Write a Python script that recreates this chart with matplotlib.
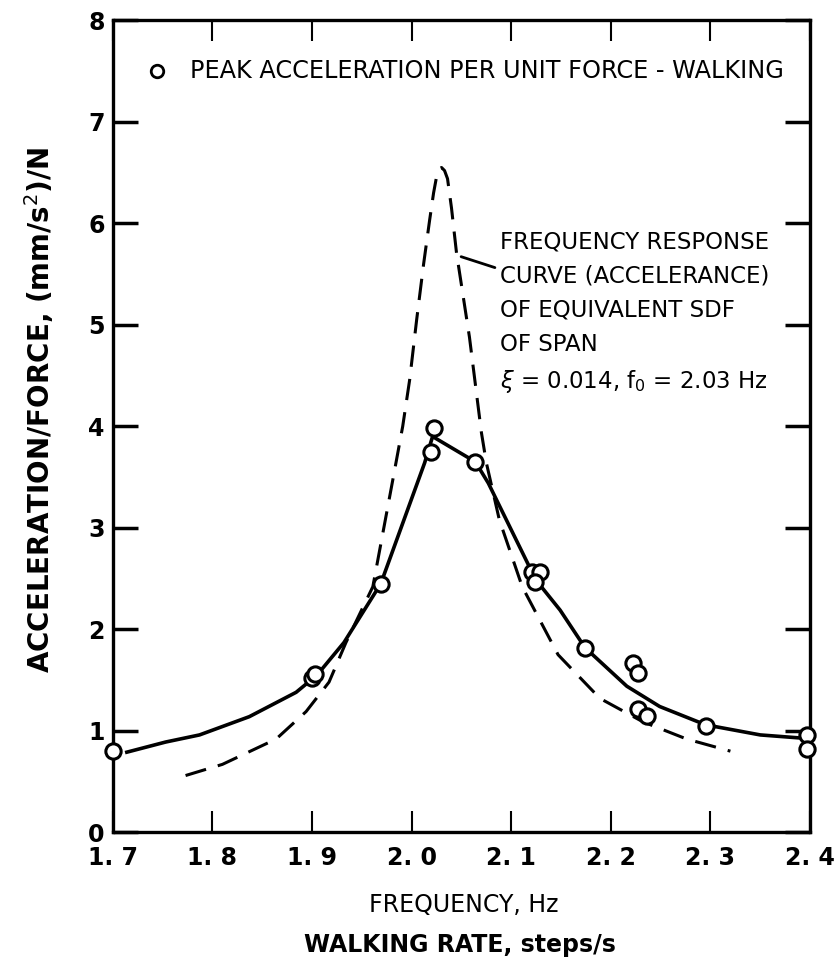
import matplotlib.pyplot as plt

plt.rcParams['font.family'] = ['DejaVu Sans']

# measured points (peak acceleration per unit force - walking)
ptFreq = [1.700, 1.900, 1.903, 1.969, 2.022, 2.019, 2.064, 2.121, 2.129, 2.124,
          2.174, 2.222, 2.227, 2.227, 2.236, 2.295, 2.397, 2.397]
ptAcc = [0.80, 1.52, 1.56, 2.45, 3.98, 3.75, 3.65, 2.57, 2.57, 2.47,
         1.82, 1.67, 1.57, 1.22, 1.15, 1.05, 0.96, 0.82]

# solid fitted curve through the measurements
fitFreq = [1.714, 1.753, 1.787, 1.837, 1.884, 1.905, 1.932, 1.969, 2.013, 2.021,
           2.064, 2.077, 2.118, 2.131, 2.149, 2.174, 2.216, 2.249, 2.295, 2.350, 2.390]
fitAcc = [0.79, 0.89, 0.96, 1.14, 1.38, 1.55, 1.87, 2.45, 3.64, 3.90,
          3.65, 3.44, 2.62, 2.41, 2.19, 1.82, 1.44, 1.24, 1.06, 0.96, 0.93]

# dashed frequency response curve of equivalent SDF
sdfFreq = [1.773, 1.810, 1.864, 1.894, 1.917, 1.934, 1.961, 1.981, 1.991, 1.998,
           2.005, 2.012, 2.018, 2.022, 2.025, 2.028, 2.030, 2.033, 2.036, 2.040,
           2.045, 2.058, 2.070, 2.075, 2.088, 2.111, 2.147, 2.189, 2.232, 2.276, 2.320]
sdfAcc = [0.56, 0.67, 0.92, 1.19, 1.48, 1.87, 2.42, 3.47, 4.00, 4.46,
          5.05, 5.60, 6.03, 6.30, 6.46, 6.54, 6.55, 6.52, 6.44, 6.15,
          5.71, 4.88, 3.94, 3.64, 3.08, 2.42, 1.75, 1.32, 1.09, 0.92, 0.80]

xTicks = [1.7, 1.8, 1.9, 2.0, 2.1, 2.2, 2.3, 2.4]
xTickLabels = ['1. 7', '1. 8', '1. 9', '2. 0', '2. 1', '2. 2', '2. 3', '2. 4']
yTicks = [0, 1, 2, 3, 4, 5, 6, 7, 8]

fig = plt.figure(figsize=(8.36, 9.69), dpi=100)
ax = fig.add_axes([0.135, 0.141, 0.834, 0.838])

ax.plot(sdfFreq, sdfAcc, color='black', lw=2.2, linestyle=(0, (7, 4)))
ax.plot(fitFreq, fitAcc, color='black', lw=2.6)
ax.plot(ptFreq, ptAcc, 'o', ms=11, mfc='white', mec='black', mew=2.2, clip_on=False, zorder=5)

ax.set_xlim(1.7, 2.4)
ax.set_ylim(0, 8)
for s in ax.spines.values():
    s.set_linewidth(2.4)

ax.set_xticks(xTicks)
ax.set_xticklabels(xTickLabels, fontsize=17, fontweight='bold')
ax.set_yticks(yTicks)
ax.set_yticklabels([str(v) for v in yTicks], fontsize=17, fontweight='bold')
ax.tick_params(axis='x', direction='in', length=15, width=1.5, top=True, pad=10)
ax.tick_params(axis='y', direction='in', length=18, width=2.5, right=True, pad=6)

# legend line at the top
ax.plot([0.063], [0.938], 'o', ms=9, mfc='white', mec='black', mew=2,
        transform=ax.transAxes)
ax.text(0.11, 0.938, 'PEAK ACCELERATION PER UNIT FORCE - WALKING',
        transform=ax.transAxes, fontsize=17.3, va='center', ha='left')

# note on the SDF curve
note = ('FREQUENCY RESPONSE\nCURVE (ACCELERANCE)\nOF EQUIVALENT SDF\nOF SPAN\n'
        '$\\xi$ = 0.014, f$_0$ = 2.03 Hz')
ax.annotate(note, xy=(2.047, 5.68), xytext=(2.089, 5.93), fontsize=16.5,
            va='top', ha='left', linespacing=1.62,
            arrowprops=dict(arrowstyle='-', color='black', lw=2))

ax.set_ylabel('ACCELERATION/FORCE, (mm/s$^2$)/N', fontsize=20, fontweight='bold')
ax.yaxis.set_label_coords(-0.082, 0.52)

fig.text(0.555, 0.066, 'FREQUENCY, Hz', fontsize=17, ha='center', va='center')
fig.text(0.55, 0.025, 'WALKING RATE, steps/s', fontsize=17, fontweight='bold',
         ha='center', va='center')

fig.savefig('out.png', dpi=100)
